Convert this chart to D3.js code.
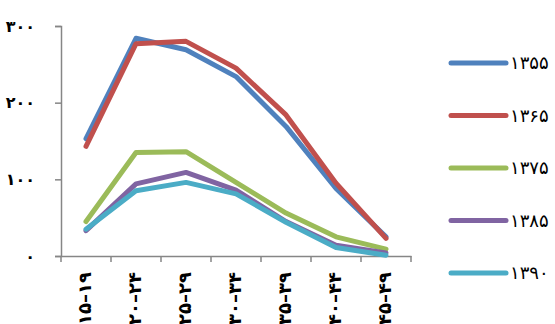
<!DOCTYPE html>
<html><head><meta charset="utf-8">
<script src="https://cdn.jsdelivr.net/npm/d3@7"></script>
<style>body{margin:0;background:#fff}</style>
</head><body>
<svg id="c" width="555" height="324"></svg>
<script>
const categories = ["۱۵–۱۹","۲۰–۲۴","۲۵–۲۹","۳۰–۳۴","۳۵–۳۹","۴۰–۴۴","۴۵–۴۹"];
const seriesNames = ["۱۳۵۵","۱۳۶۵","۱۳۷۵","۱۳۸۵","۱۳۹۰"];
const s1355 = [153, 284, 269, 234, 169, 88, 25];
const s1365 = [143, 277, 280, 245, 184, 95, 23];
const s1375 = [45, 135, 136, 96, 56, 25, 9];
const s1385 = [33, 94, 109, 86, 45, 14, 4];
const s1390 = [35, 85, 96, 81, 44, 11, 1];
const yTicks = [0, 100, 200, 300];
const yTickLabels = ["۰","۱۰۰","۲۰۰","۳۰۰"];
const colors = ["#4F81BD","#C0504D","#9BBB59","#8064A2","#4BACC6"];
const allSeries = [s1355, s1365, s1375, s1385, s1390];

const svg = d3.select("#c");
const x = d3.scaleBand().domain(categories).range([61, 411]);
const y = d3.scaleLinear().domain([0, 300]).range([256, 26]);
const axisColor = "#868686";

// y axis
const ya = svg.append("g").attr("transform","translate(61,0)")
  .call(d3.axisLeft(y).tickValues(yTicks).tickSize(6).tickFormat((d,i)=>yTickLabels[i]));
ya.select(".domain").attr("stroke",axisColor).attr("stroke-width",1.5);
ya.selectAll(".tick line").attr("stroke",axisColor).attr("stroke-width",1.5);
ya.selectAll(".tick text").attr("x",-26).attr("font-family","DejaVu Sans").attr("font-size",16)
  .attr("font-weight","bold").attr("fill","#000");

// x axis
const xa = svg.append("g").attr("transform","translate(0,256)")
  .call(d3.axisBottom(x).tickSize(0).tickFormat(""));
xa.select(".domain").attr("stroke",axisColor).attr("stroke-width",1.5);
const bounds = categories.map(c=>x(c)).concat([x.range()[1]]);
svg.append("g").selectAll("line").data(bounds).join("line")
  .attr("x1",d=>d).attr("x2",d=>d).attr("y1",256).attr("y2",262)
  .attr("stroke",axisColor).attr("stroke-width",1.5);
svg.append("g").selectAll("text").data(categories).join("text")
  .attr("transform",d=>`translate(${x(d)+x.bandwidth()/2+5},272) rotate(-90)`)
  .attr("text-anchor","end").attr("direction","ltr")
  .attr("font-family","DejaVu Sans").attr("font-size",18).attr("font-weight","bold")
  .attr("fill","#000").text(d=>d);

// lines
const line = d3.line().x((d,i)=>x(categories[i])+x.bandwidth()/2).y(d=>y(d));
svg.append("g").selectAll("path").data(allSeries).join("path")
  .attr("d",line).attr("fill","none").attr("stroke",(d,i)=>colors[i])
  .attr("stroke-width",5).attr("stroke-linejoin","round").attr("stroke-linecap","round");

// legend
const lg = svg.append("g").selectAll("g").data(seriesNames).join("g")
  .attr("transform",(d,i)=>`translate(0,${63+i*52.5})`);
lg.append("line").attr("x1",451).attr("x2",506).attr("y1",0).attr("y2",0)
  .attr("stroke",(d,i)=>colors[i]).attr("stroke-width",5).attr("stroke-linecap","round");
lg.append("text").attr("x",510).attr("y",6).attr("direction","ltr")
  .attr("font-family","DejaVu Sans").attr("font-size",18).attr("fill","#000").text(d=>d);
</script>
</body></html>
